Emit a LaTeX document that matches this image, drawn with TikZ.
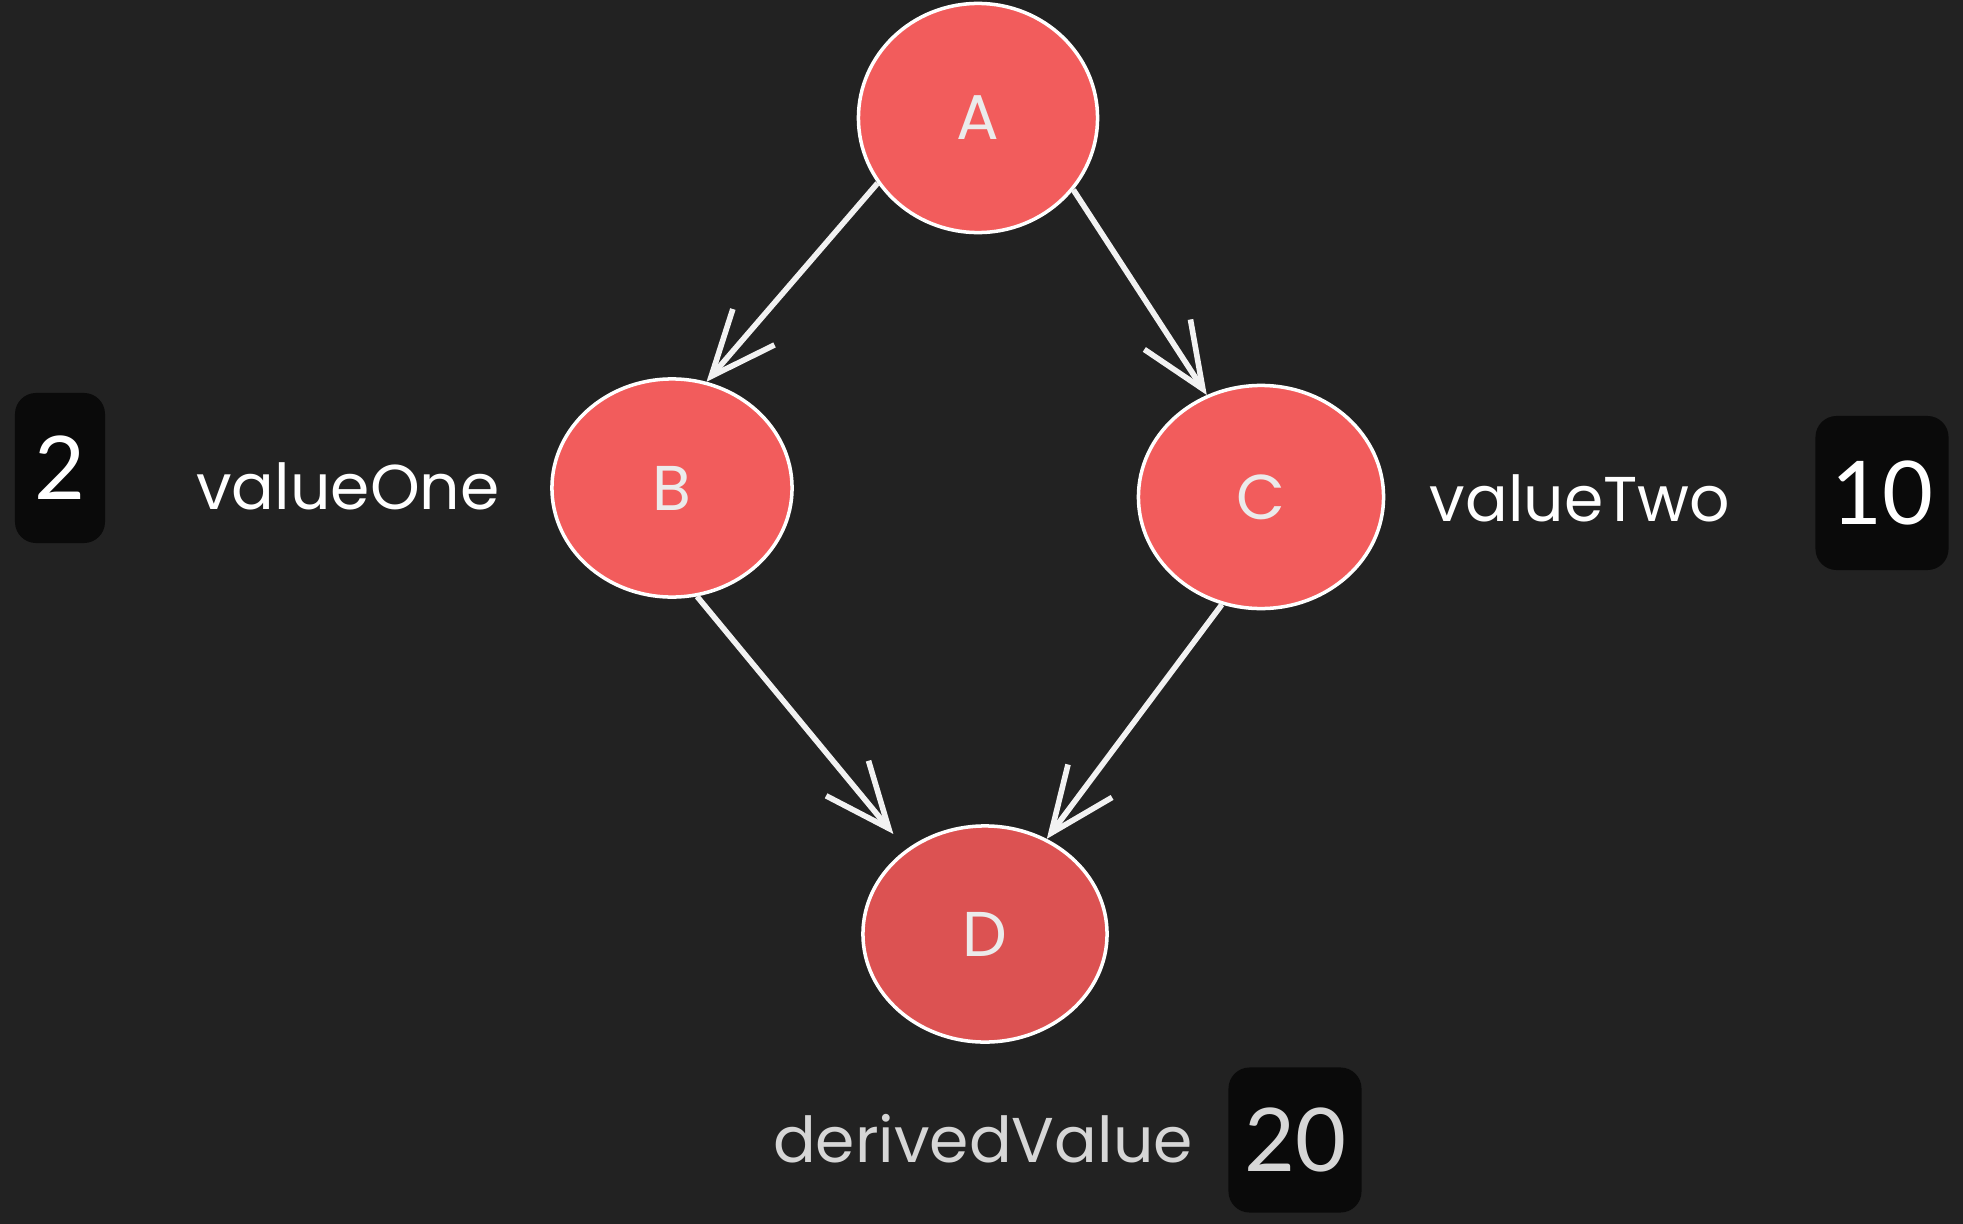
\documentclass[tikz,border=0pt]{standalone}
\usepackage{fontspec}
\usepackage{xcolor}
\usepackage{tikz}
\usetikzlibrary{arrows.meta,shapes.geometric}

\newfontfamily\handfont{Poppins}
\newfontfamily\numfont{Lato}
\definecolor{bgdark}{HTML}{222222}
\definecolor{nodered}{HTML}{F25C5C}
\definecolor{nodereddark}{HTML}{DC5252}
\definecolor{boxblack}{HTML}{0A0A0A}
\definecolor{labelgrey}{HTML}{D6D6D6}

\begin{document}
\begin{tikzpicture}[x=0.01cm,y=0.01cm,
  vertex/.style={ellipse, draw=white, line width=1pt, fill=nodered, text=white!92!black,
    inner sep=0pt, font=\handfont\fontsize{18}{20}\selectfont},
  link/.style={draw=white!95!black, line width=1.6pt,
    -{Straight Barb[length=6.5mm,width=5.5mm,line width=1.6pt]}},
  varlabel/.style={text=white, font=\handfont\fontsize{18}{20}\selectfont},
  valbox/.style={fill=boxblack, rounded corners=6pt, text=white,
    font=\numfont\fontsize{25}{28}\selectfont}]

  % Background
  \fill[bgdark] (0,0) rectangle (1963,-1224);
  \useasboundingbox (0,0) rectangle (1963,-1224);

  % Graph nodes
  \node[vertex, minimum width=2.39cm, minimum height=2.29cm] (A) at (978,-118) {A};
  \node[vertex, minimum width=2.40cm, minimum height=2.18cm] (B) at (672,-488) {B};
  \node[vertex, minimum width=2.45cm, minimum height=2.23cm] (C) at (1261,-497) {C};
  \node[vertex, fill=nodereddark, minimum width=2.44cm, minimum height=2.16cm] (D) at (985,-934) {D};

  % Edges
  \draw[link] (A.213) -- (B.72);
  \draw[link] (A.323) -- (C.118);
  \draw[link, shorten >=0.2cm] (B.283) -- (D.133);
  \draw[link] (C.250) -- (D.57);

  % Variable names
  \node[varlabel] (nameone) at (348,-486) {valueOne};
  \node[varlabel] (nametwo) at (1580,-498) {valueTwo};
  \node[varlabel, text=labelgrey] (namederived) at (983,-1139) {derivedValue};

  % Values
  \node[valbox, minimum width=0.9cm, minimum height=1.5cm] (valone) at (60,-468) {2};
  \node[valbox, minimum width=1.33cm, minimum height=1.54cm] (valtwo) at (1882,-493) {10};
  \node[valbox, text=labelgrey, minimum width=1.33cm, minimum height=1.45cm] (valderived) at (1295,-1140) {20};

\end{tikzpicture}
\end{document}
